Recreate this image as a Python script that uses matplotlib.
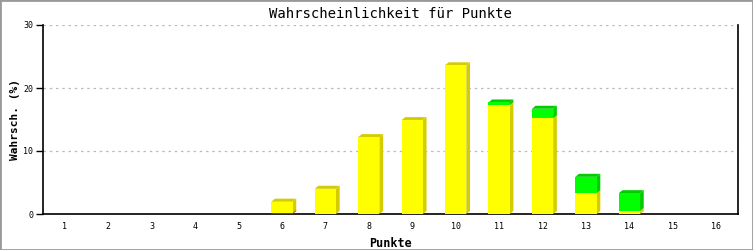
import numpy as np
import matplotlib
matplotlib.use('Agg')
import matplotlib.pyplot as plt
from matplotlib.patches import Polygon, Rectangle

# data
punkte = [1, 2, 3, 4, 5, 6, 7, 8, 9, 10, 11, 12, 13, 14, 15, 16]
rot = [0, 0, 0, 0, 0, 0.15, 0, 0, 0, 0, 0, 0, 0, 0, 0, 0]
gelb = [0, 0, 0, 0, 0, 1.8, 4.0, 12.2, 14.9, 23.6, 17.3, 15.2, 3.3, 0.5, 0, 0]
gruen = [0, 0, 0, 0, 0, 0, 0, 0, 0, 0, 0.4, 1.5, 2.6, 2.8, 0, 0]

farben = [('#ff0000', '#c00000'), ('#ffff00', '#d4cc00'), ('#00ff00', '#00cc00')]

fig = plt.figure(figsize=(7.53, 2.5), dpi=100)
ax = fig.add_axes([43 / 753, 36 / 250, 695 / 753, 189 / 250])

x = np.arange(len(punkte))
breite = 0.49
dx = 0.085   # 3d depth in x (categories)
dy = 0.48    # 3d depth in y (percent)

boden = np.zeros(len(punkte))
for werte, (farbe, dunkel) in zip([rot, gelb, gruen], farben):
    werte = np.array(werte, dtype=float)
    for i in range(len(punkte)):
        if werte[i] <= 0:
            continue
        x0 = x[i] - breite / 2
        x1 = x[i] + breite / 2
        y0 = boden[i]
        y1 = boden[i] + werte[i]
        # side face
        ax.add_patch(Polygon([(x1, y0), (x1 + dx, y0 + dy), (x1 + dx, y1 + dy), (x1, y1)],
                             closed=True, facecolor=dunkel, edgecolor='none', zorder=3))
        # top face
        ax.add_patch(Polygon([(x0, y1), (x0 + dx, y1 + dy), (x1 + dx, y1 + dy), (x1, y1)],
                             closed=True, facecolor=dunkel, edgecolor='none', zorder=3))
    ax.bar(x, werte, bottom=boden, width=breite, color=farbe, edgecolor='none', zorder=4)
    boden = boden + werte

ax.set_xlim(-0.5, len(punkte) - 0.5)
ax.set_ylim(0, 30)
ax.set_yticks([0, 10, 20, 30])
ax.set_xticks(x)
ax.set_xticklabels([str(p) for p in punkte])

mono = 'DejaVu Sans Mono'
ax.tick_params(axis='y', length=5, width=1, labelsize=6, pad=2, direction='out')
ax.tick_params(axis='x', length=0, labelsize=6, pad=6)
for lbl in ax.get_xticklabels() + ax.get_yticklabels():
    lbl.set_family(mono)

ax.grid(axis='y', color='#bbbbbb', linestyle=(0, (2, 3)), linewidth=0.9, zorder=0)
ax.spines['top'].set_visible(False)
for s in ['left', 'bottom', 'right']:
    ax.spines[s].set_linewidth(1.2)
    ax.spines[s].set_color('black')

ax.set_title('Wahrscheinlichkeit für Punkte', family=mono, fontsize=10, pad=5)
ax.set_xlabel('Punkte', family=mono, fontsize=8.5, fontweight='bold', labelpad=4)
ax.set_ylabel('Wahrsch. (%)', family=mono, fontsize=8, fontweight='bold')
ax.yaxis.set_label_coords(-23 / 695, 0.5)

fig.add_artist(Rectangle((0, 0), 1, 1, transform=fig.transFigure, fill=False,
                         edgecolor='#999999', linewidth=2))

fig.savefig('out.png', dpi=100)
